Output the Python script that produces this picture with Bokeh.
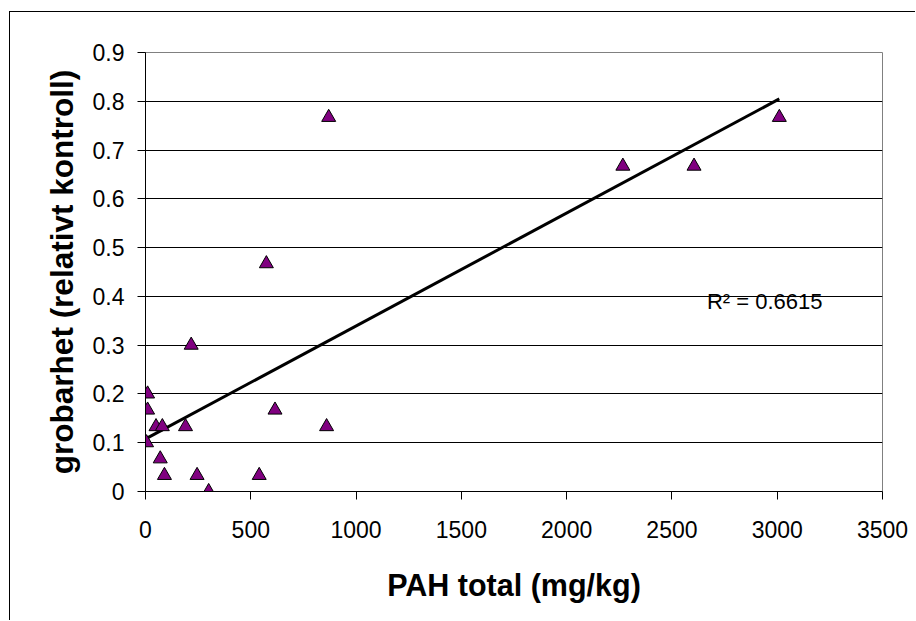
import numpy as np
from bokeh.plotting import figure
from bokeh.models import ColumnDataSource, FixedTicker, Range1d, Label
from bokeh.embed import file_html
from bokeh.resources import INLINE

# ---- data ----
pah_total = [10, 10, 50, 80, 190, 5, 70, 90, 245, 300, 540, 615, 860, 217, 574, 870, 2267, 2605, 3010]
grobarhet = [0.2, 0.167, 0.133, 0.133, 0.133, 0.1, 0.067, 0.033, 0.033, 0.0, 0.033, 0.167, 0.133,
             0.3, 0.467, 0.767, 0.667, 0.667, 0.767]
x_ticks = [0, 500, 1000, 1500, 2000, 2500, 3000, 3500]
x_tick_labels = ["0", "500", "1000", "1500", "2000", "2500", "3000", "3500"]
y_ticks = [0, 0.1, 0.2, 0.3, 0.4, 0.5, 0.6, 0.7, 0.8, 0.9]
y_tick_labels = ["0", "0.1", "0.2", "0.3", "0.4", "0.5", "0.6", "0.7", "0.8", "0.9"]
r2_label = "R\u00b2 = 0.6615"
x_title = "PAH total (mg/kg)"
y_title = "grobarhet (relativt kontroll)"

FONT = "Liberation Sans"

p = figure(width=906, height=609, output_backend="svg", toolbar_location=None,
           x_range=Range1d(0, 3500), y_range=Range1d(0, 0.9),
           min_border_left=135, min_border_right=34, min_border_top=40, min_border_bottom=130)
p.styles = {"margin-left": "9px", "margin-top": "11px",
            "border-left": "1px solid black", "border-top": "1px solid black"}
p.background_fill_color = "white"
p.border_fill_color = "white"
p.outline_line_color = "#808080"
p.outline_line_width = 1

# trend line (least squares)
slope, intercept = np.polyfit(pah_total, grobarhet, 1)
xl = np.array([min(pah_total), max(pah_total)])
p.line(xl, slope * xl + intercept, line_color="black", line_width=3)

src = ColumnDataSource(dict(x=pah_total, y=grobarhet))
p.scatter("x", "y", source=src, marker="triangle", size=14,
          fill_color="#800080", line_color="black", line_width=1)

p.add_layout(Label(x=2666, y=0.39, text=r2_label, text_font=FONT, text_font_size="22px",
                   text_color="black", text_baseline="alphabetic"))

# axes
p.xaxis.ticker = FixedTicker(ticks=x_ticks)
p.xaxis.major_label_overrides = dict(zip(x_ticks, x_tick_labels))
p.yaxis.ticker = FixedTicker(ticks=y_ticks)
p.yaxis.major_label_overrides = dict(zip(y_ticks, y_tick_labels))
for ax in (p.xaxis, p.yaxis):
    ax.axis_line_color = "black"
    ax.major_tick_line_color = "black"
    ax.major_tick_in = 0
    ax.major_tick_out = 8
    ax.minor_tick_line_color = None
    ax.major_label_text_font = FONT
    ax.major_label_text_font_size = "23px"
    ax.major_label_text_color = "black"
    ax.axis_label_text_font = FONT
    ax.axis_label_text_font_style = "bold"
    ax.axis_label_text_color = "black"
p.xaxis.axis_label_text_font_size = "30.5px"
p.yaxis.axis_label_text_font_size = "31.5px"
p.xaxis.axis_label = x_title
p.yaxis.axis_label = y_title
p.xaxis.major_label_standoff = 21
p.yaxis.major_label_standoff = 13
p.xaxis.axis_label_standoff = 27
p.yaxis.axis_label_standoff = 10

p.xgrid.grid_line_color = None
p.ygrid.ticker = FixedTicker(ticks=y_ticks)
p.ygrid.grid_line_color = "black"
p.ygrid.grid_line_width = 1

open("out.html", "w").write(file_html(p, INLINE))
